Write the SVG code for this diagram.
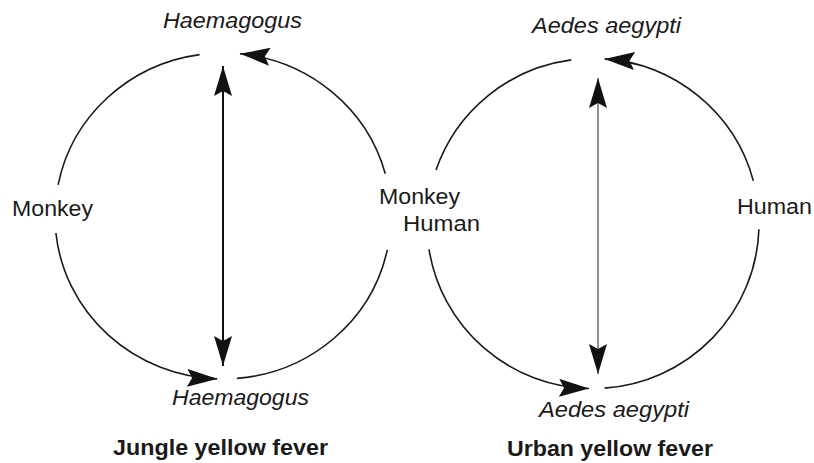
<svg xmlns="http://www.w3.org/2000/svg" width="814" height="463" viewBox="0 0 814 463">
<style>
.arc{fill:none;stroke:#1a1a1a;stroke-width:1.6}
.ax{fill:none;stroke:#111;stroke-width:2}
.ax2{fill:none;stroke:#555;stroke-width:1.3}
.lbl{font-family:"Liberation Sans",Arial,sans-serif;font-size:22px;fill:#1a1a1a}
.it{font-style:italic}
.bd{font-weight:bold}
</style>
<defs>
<marker id="ah" viewBox="0 0 30 18" refX="30" refY="9" markerWidth="30" markerHeight="18" markerUnits="userSpaceOnUse" orient="auto">
<path d="M0,0 L30,9 L0,18 L5,9 Z" fill="#111"/>
</marker>
<marker id="ahs" viewBox="0 0 30 18" refX="30" refY="9" markerWidth="30" markerHeight="18" markerUnits="userSpaceOnUse" orient="auto-start-reverse">
<path d="M0,0 L30,9 L0,18 L5,9 Z" fill="#111"/>
</marker>
</defs>
<rect width="814" height="463" fill="#fff"/>
<g id="connectors">
<path class="arc" d="M58.1,184.9 A168,163 0 0 1 199.6,54.6"/>
<path class="arc" d="M385.3,173.8 A168,163 0 0 0 240,53.8" marker-end="url(#ah)"/>
<path class="arc" d="M55.9,233 A168,163 0 0 0 217.1,378.9" marker-end="url(#ah)"/>
<path class="arc" d="M387.3,249.9 A168,163 0 0 1 237,378.4"/>
<path class="ax" d="M223,66 L223,366" marker-start="url(#ahs)" marker-end="url(#ah)"/>
<path class="arc" d="M436,170.1 A166,165 0 0 1 571.3,59.9"/>
<path class="arc" d="M753.3,180.8 A166,165 0 0 0 604.6,58.9" marker-end="url(#ah)"/>
<path class="arc" d="M429,249.3 A166,165 0 0 0 589,388.5" marker-end="url(#ah)"/>
<path class="arc" d="M758.9,229.3 A166,165 0 0 1 604.6,388.1"/>
<path class="ax2" d="M598,78 L598,374" marker-start="url(#ahs)" marker-end="url(#ah)"/>
</g>
<g id="haemagogus-top"><text class="lbl it" x="163" y="28" textLength="139" lengthAdjust="spacingAndGlyphs">Haemagogus</text></g>
<g id="monkey-left"><text class="lbl" x="12" y="216" textLength="81" lengthAdjust="spacingAndGlyphs">Monkey</text></g>
<g id="haemagogus-bottom"><text class="lbl it" x="172" y="405" textLength="137" lengthAdjust="spacingAndGlyphs">Haemagogus</text></g>
<g id="monkey-human-mid">
<text class="lbl" x="379" y="204" textLength="81" lengthAdjust="spacingAndGlyphs">Monkey</text>
<text class="lbl" x="403" y="231" textLength="77" lengthAdjust="spacingAndGlyphs">Human</text>
</g>
<g id="aedes-top"><text class="lbl it" x="532" y="33" textLength="149" lengthAdjust="spacingAndGlyphs">Aedes aegypti</text></g>
<g id="human-right"><text class="lbl" x="737" y="214" textLength="75" lengthAdjust="spacingAndGlyphs">Human</text></g>
<g id="aedes-bottom"><text class="lbl it" x="539" y="417" textLength="150" lengthAdjust="spacingAndGlyphs">Aedes aegypti</text></g>
<g id="title-jungle"><text class="lbl bd" x="113" y="455" textLength="215" lengthAdjust="spacingAndGlyphs">Jungle yellow fever</text></g>
<g id="title-urban"><text class="lbl bd" x="507" y="456" textLength="206" lengthAdjust="spacingAndGlyphs">Urban yellow fever</text></g>
</svg>
